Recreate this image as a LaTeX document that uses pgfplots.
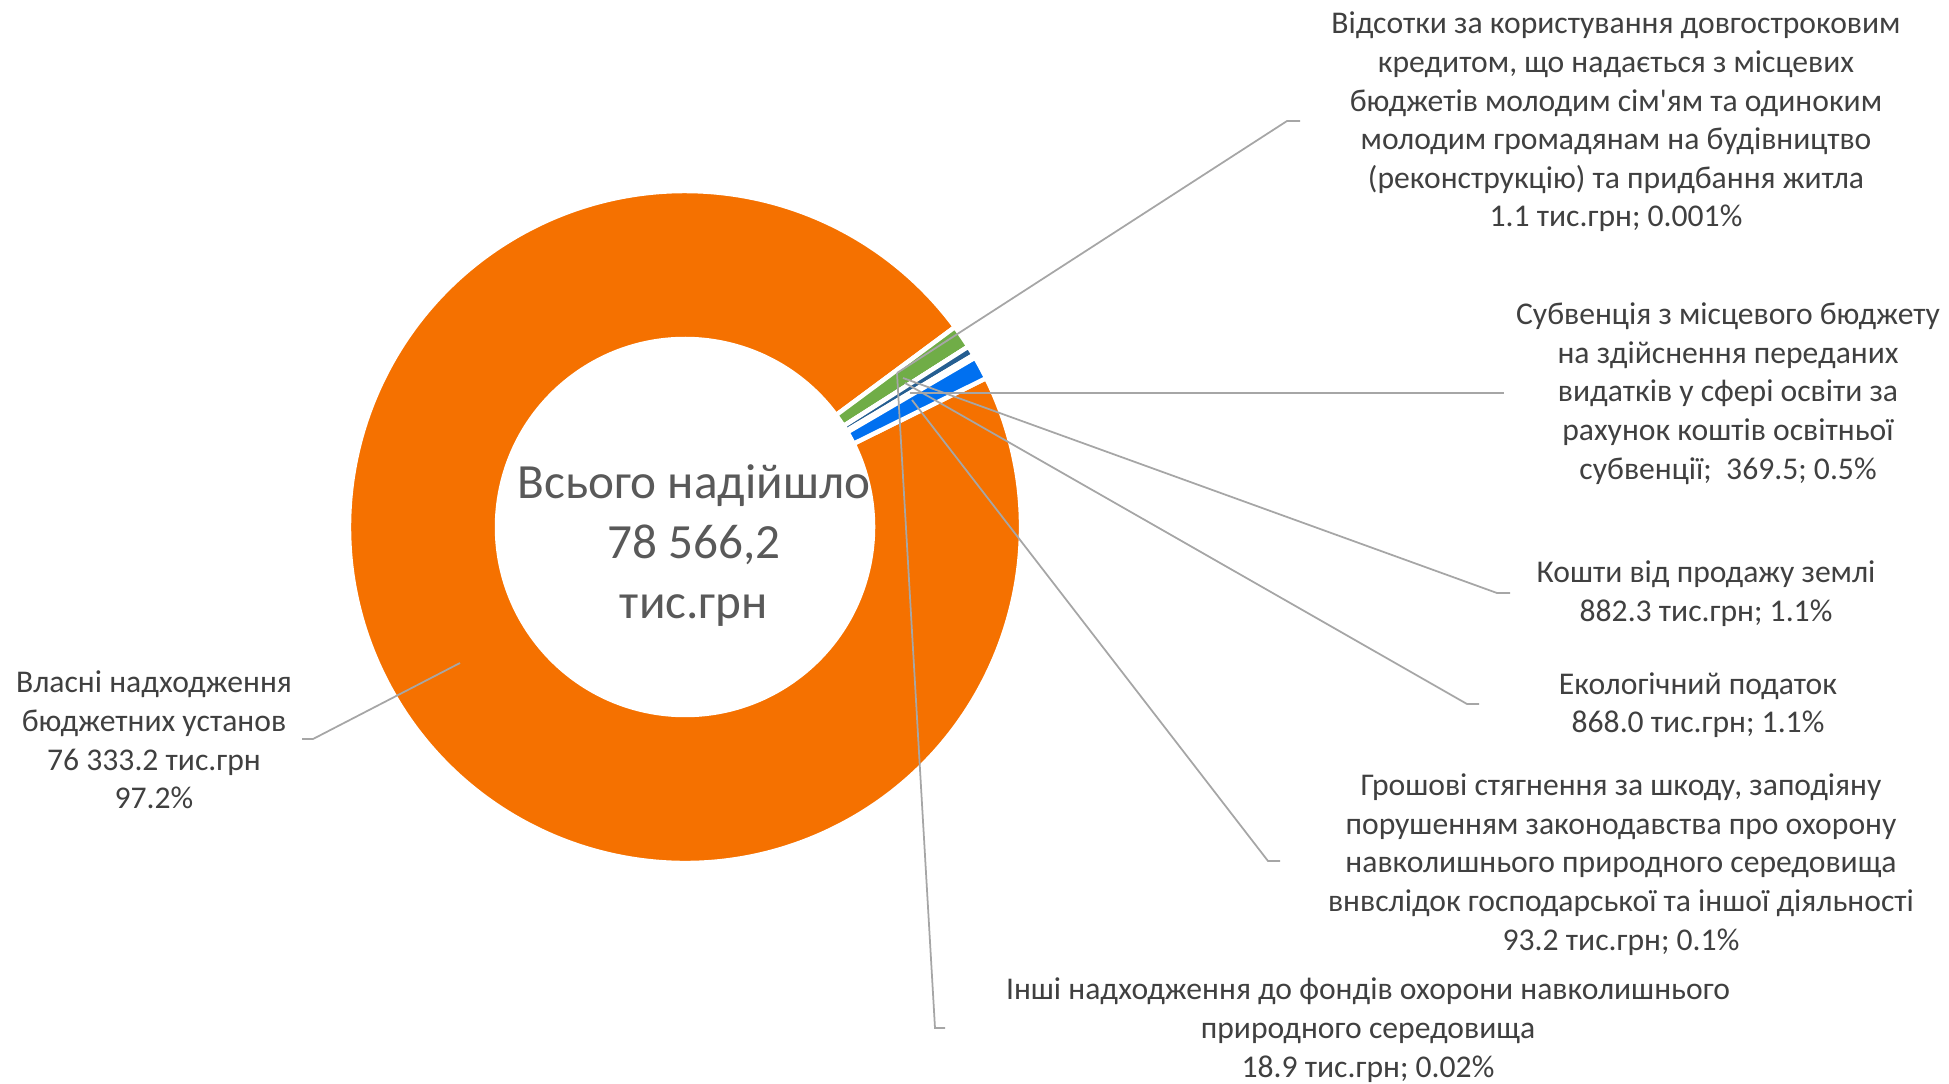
\documentclass[border=0pt]{standalone}
\usepackage{pgfplots}
\usepackage{pgfplotstable}
\usepackage{fontspec}
\setmainfont{Carlito}[Ligatures=TeXOff]
\pgfplotsset{compat=1.18}

\definecolor{sliceorange}{HTML}{F57100}
\definecolor{slicegreen}{HTML}{70AD47}
\definecolor{slicenavy}{HTML}{255E91}
\definecolor{sliceblue}{HTML}{0070F0}
\definecolor{labeltext}{HTML}{404040}
\definecolor{centertext}{HTML}{595959}
\definecolor{leader}{HTML}{A6A6A6}

% values in thousand UAH, clockwise from the first slice
\pgfplotstableread{
value   color
76333.2 sliceorange
882.3   slicegreen
1.1     slicegreen
369.5   slicenavy
93.2    slicenavy
18.9    sliceblue
868.0   sliceblue
}\slices

\tikzset{
  lbl/.style={font=\fontsize{9}{11}\selectfont, text=labeltext, align=center, inner sep=0pt},
  ldr/.style={draw=leader, line width=0.5pt},
}

\begin{document}
\begin{tikzpicture}
\begin{axis}[
  width=194.9mm, height=108.3mm,
  scale only axis,
  xmin=0, xmax=1949, ymin=0, ymax=1083,
  disabledatascaling,
  hide axis,
  clip=false,
]
\path (axis cs:0,0) rectangle (axis cs:1949,1083);

% donut: centre (685,556), radii 336 / 188 axis units (0.1 mm each)
\edef\angcur{26.3}
\pgfplotstablegetrowsof{\slices}
\pgfmathtruncatemacro\lastrow{\pgfplotsretval-1}
\pgfplotsforeachungrouped \i in {0,...,\lastrow} {
  \pgfplotstablegetelem{\i}{value}\of\slices \let\v\pgfplotsretval
  \pgfplotstablegetelem{\i}{color}\of\slices \let\c\pgfplotsretval
  \edef\aend{\fpeval{round(\angcur - 360*\v/78566.2, 4)}}
  \edef\xa{\fpeval{round(685+336*cosd(\angcur),3)}}
  \edef\ya{\fpeval{round(556+336*sind(\angcur),3)}}
  \edef\xb{\fpeval{round(685+188*cosd(\aend),3)}}
  \edef\yb{\fpeval{round(556+188*sind(\aend),3)}}
  \edef\temp{\noexpand\filldraw[fill=\c, draw=white, line width=0.45mm]
    (axis cs:\xa,\ya) arc[start angle=\angcur, end angle=\aend, radius=33.6mm]
    -- (axis cs:\xb,\yb) arc[start angle=\aend, end angle=\angcur, radius=18.8mm] -- cycle;}
  \temp
  \global\let\angcur\aend
}

% leader lines
\draw[ldr] (axis cs:897,710) -- (axis cs:1287,962) -- (axis cs:1300,962);
\draw[ldr] (axis cs:897,710) -- (axis cs:935,55) -- (axis cs:945,55);
\draw[ldr] (axis cs:910,690) -- (axis cs:1504,690);
\draw[ldr] (axis cs:903,705) -- (axis cs:1497,490) -- (axis cs:1510,490);
\draw[ldr] (axis cs:905,700) -- (axis cs:1467,379) -- (axis cs:1479,379);
\draw[ldr] (axis cs:912,683) -- (axis cs:1268,222) -- (axis cs:1280,222);
\draw[ldr] (axis cs:460,420) -- (axis cs:313,344) -- (axis cs:302,344);

% labels
\node[lbl] at (axis cs:1616,961) {Відсотки за користування довгостроковим\\кредитом, що надається з місцевих\\бюджетів молодим сім'ям та одиноким\\молодим громадянам на будівництво\\(реконструкцію) та придбання житла\\1.1 тис.грн; 0.001\%};
\node[lbl] at (axis cs:1728,689.5) {Субвенція з місцевого бюджету\\на здійснення переданих\\видатків у сфері освіти за\\рахунок коштів освітньої\\субвенції;\ \ 369.5; 0.5\%};
\node[lbl] at (axis cs:1706,489.5) {Кошти від продажу землі\\882.3 тис.грн; 1.1\%};
\node[lbl] at (axis cs:1698,378) {Екологічний податок\\868.0 тис.грн; 1.1\%};
\node[lbl] at (axis cs:1621,218.5) {Грошові стягнення за шкоду, заподіяну\\порушенням законодавства про охорону\\навколишнього природного середовища\\внвслідок господарської та іншої діяльності\\93.2 тис.грн; 0.1\%};
\node[lbl] at (axis cs:1368,53) {Інші надходження до фондів охорони навколишнього\\природного середовища\\18.9 тис.грн; 0.02\%};
\node[lbl] at (axis cs:154,343) {Власні надходження\\бюджетних установ\\76 333.2 тис.грн\\97.2\%};
\node[lbl, font=\fontsize{14}{17}\selectfont, text=centertext] at (axis cs:694,537.5) {Всього надійшло\\78 566,2\\тис.грн};
\end{axis}
\end{tikzpicture}
\end{document}
